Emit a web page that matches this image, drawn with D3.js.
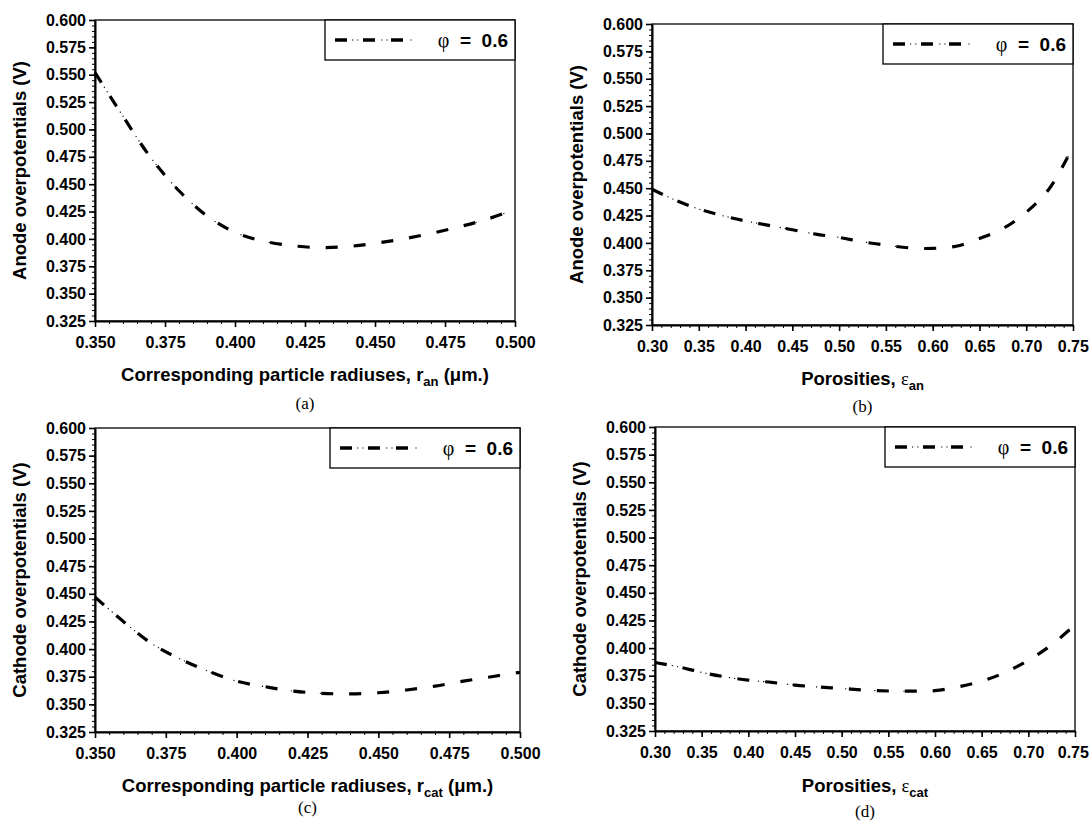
<!DOCTYPE html>
<html><head><meta charset="utf-8">
<script src="https://cdn.jsdelivr.net/npm/d3@7"></script>
<style>body{margin:0;background:#fff}svg{display:block}</style>
</head><body><svg id="chart" width="1090" height="822"></svg>
<script>
// ---- data ----
const radiusX = [0.350,0.360,0.370,0.380,0.390,0.400,0.410,0.420,0.430,0.440,0.450,0.460,0.470,0.480,0.490,0.500];
const anodeRadiusY = [0.552,0.512,0.474,0.444,0.421,0.406,0.398,0.394,0.392,0.393,0.396,0.400,0.405,0.411,0.418,0.427];
const cathodeRadiusY = [0.447,0.425,0.405,0.391,0.380,0.371,0.366,0.362,0.360,0.3595,0.3605,0.363,0.3665,0.371,0.375,0.379];
const porosityX = [0.300,0.325,0.350,0.375,0.400,0.425,0.450,0.475,0.500,0.525,0.550,0.575,0.600,0.625,0.650,0.675,0.700,0.725,0.750];
const anodePorosityY = [0.449,0.439,0.431,0.425,0.420,0.416,0.412,0.408,0.405,0.401,0.398,0.3955,0.395,0.397,0.404,0.413,0.428,0.450,0.488];
const cathodePorosityY = [0.387,0.383,0.378,0.374,0.371,0.369,0.3665,0.3648,0.3635,0.362,0.3612,0.361,0.3615,0.365,0.370,0.378,0.389,0.403,0.421];
const yTickValues = [0.325,0.350,0.375,0.400,0.425,0.450,0.475,0.500,0.525,0.550,0.575,0.600];
const radiusTickValues = [0.350,0.375,0.400,0.425,0.450,0.475,0.500];
const porosityTickValues = [0.30,0.35,0.40,0.45,0.50,0.55,0.60,0.65,0.70,0.75];
const legendValue = "0.6";

// ---- layout ----
const panels = [
  {L:95,R:515,T:20,B:321, xs:radiusX, ys:anodeRadiusY, xt:radiusTickValues, xfmt:".3f", xminor:0.005,
   yTitle:"Anode overpotentials (V)", xTitle:["Corresponding particle radiuses, r","an"," (\u03bcm.)"], cap:"(a)", capY:409, xTitleY:381},
  {L:652,R:1073,T:24,B:325, xs:porosityX, ys:anodePorosityY, xt:porosityTickValues, xfmt:".2f", xminor:0.01,
   yTitle:"Anode overpotentials (V)", xTitle:["Porosities, ","\u03b5","an"], greek:true, cap:"(b)", capY:412, xTitleY:385},
  {L:95,R:520,T:428,B:732, xs:radiusX, ys:cathodeRadiusY, xt:radiusTickValues, xfmt:".3f", xminor:0.005,
   yTitle:"Cathode overpotentials (V)", xTitle:["Corresponding particle radiuses, r","cat"," (\u03bcm.)"], cap:"(c)", capY:813, xTitleY:792},
  {L:655,R:1075,T:427,B:731, xs:porosityX, ys:cathodePorosityY, xt:porosityTickValues, xfmt:".2f", xminor:0.01,
   yTitle:"Cathode overpotentials (V)", xTitle:["Porosities, ","\u03b5","cat"], greek:true, cap:"(d)", capY:817, xTitleY:792}
];

const svg = d3.select("#chart");
const SANS = "'Liberation Sans', Arial, sans-serif";
const SERIF = "'Liberation Serif', 'Times New Roman', serif";

panels.forEach(p => {
  const g = svg.append("g");
  const x = d3.scaleLinear().domain([p.xt[0], p.xt[p.xt.length-1]]).range([p.L, p.R]);
  const y = d3.scaleLinear().domain([0.325, 0.600]).range([p.B, p.T]);

  // minor ticks
  const yMinor = d3.range(0, 56).map(i => +(0.325 + i*0.005).toFixed(4));
  const nx = Math.round((x.domain()[1]-x.domain()[0])/p.xminor);
  const xMinor = d3.range(0, nx+1).map(i => +(x.domain()[0] + i*p.xminor).toFixed(4));

  g.append("g").attr("transform", `translate(${p.L},0)`)
    .call(d3.axisLeft(y).tickValues(yMinor).tickSize(3).tickFormat("").tickSizeOuter(0))
    .call(s => { s.select(".domain").remove(); s.selectAll("line").attr("stroke","#000").attr("stroke-width",1); });
  g.append("g").attr("transform", `translate(0,${p.B})`)
    .call(d3.axisBottom(x).tickValues(xMinor).tickSize(3).tickFormat("").tickSizeOuter(0))
    .call(s => { s.select(".domain").remove(); s.selectAll("line").attr("stroke","#000").attr("stroke-width",1); });

  // plot border
  g.append("rect").attr("x", p.L).attr("y", p.T).attr("width", p.R-p.L).attr("height", p.B-p.T)
    .attr("fill","none").attr("stroke","#000").attr("stroke-width",1.3);

  // major axes
  const ya = g.append("g").attr("transform", `translate(${p.L},0)`)
    .call(d3.axisLeft(y).tickValues(yTickValues).tickSize(6).tickSizeOuter(0).tickPadding(3).tickFormat(d3.format(".3f")));
  const xa = g.append("g").attr("transform", `translate(0,${p.B})`)
    .call(d3.axisBottom(x).tickValues(p.xt).tickSize(6).tickSizeOuter(0).tickPadding(10).tickFormat(d3.format(p.xfmt)));
  [ya, xa].forEach(a => {
    a.select(".domain").attr("stroke","#000").attr("stroke-width",2);
    a.selectAll(".tick line").attr("stroke","#000").attr("stroke-width",1.6);
    a.selectAll(".tick text").attr("fill","#000").style("font-family", SANS).style("font-weight","bold").style("font-size","16px");
  });
  // keep the last x label inside the page
  xa.selectAll(".tick text").filter((d,i,n) => i === n.length-1).each(function() {
    const bb = this.getBBox();
    const m = this.getScreenCTM();
    const right = m.e + bb.x + bb.width;
    if (right > 1089) d3.select(this).attr("dx", 1089 - right);
  });

  // curve
  const line = d3.line().x((d,i) => x(p.xs[i])).y(d => y(d)).curve(d3.curveCatmullRom.alpha(0.5));
  g.append("path").datum(p.ys).attr("d", line).attr("fill","none").attr("stroke","#000")
    .attr("stroke-width",3.2).attr("stroke-dasharray","12,16");
  g.append("path").datum(p.ys).attr("d", line).attr("fill","none").attr("stroke","#000")
    .attr("stroke-width",1.1).attr("stroke-dasharray","0,17,1.2,4,1.2,5.8");

  // legend
  const lw = 190, lh = 40;
  const lx = p.R - lw, ly = p.T;
  g.append("rect").attr("x", lx).attr("y", ly).attr("width", lw).attr("height", lh)
    .attr("fill","#fff").attr("stroke","#000").attr("stroke-width",1.3);
  const lyc = ly + lh/2;
  g.append("line").attr("x1", lx+10).attr("x2", lx+90).attr("y1", lyc).attr("y2", lyc)
    .attr("stroke","#000").attr("stroke-width",3.4).attr("stroke-dasharray","12,16");
  g.append("line").attr("x1", lx+10).attr("x2", lx+90).attr("y1", lyc).attr("y2", lyc)
    .attr("stroke","#000").attr("stroke-width",1.1).attr("stroke-dasharray","0,17,1.2,4,1.2,5.8");
  const lt = g.append("text").attr("x", lx+lw-7).attr("y", lyc+7).attr("text-anchor","end")
    .style("font-family", SANS).style("font-weight","bold").style("font-size","19px").attr("fill","#000");
  lt.append("tspan").text("\u03c6").style("font-family", SERIF).style("font-weight","normal").style("font-size","20px");
  lt.append("tspan").text("\u00a0\u00a0=\u00a0\u00a0" + legendValue);

  // y title
  g.append("text").attr("transform", `translate(${p.L-69},${(p.T+p.B)/2}) rotate(-90)`)
    .attr("text-anchor","middle").style("font-family", SANS).style("font-weight","bold").style("font-size","18.5px")
    .text(p.yTitle);

  // x title
  const xt = g.append("text").attr("x", (p.L+p.R)/2).attr("y", p.xTitleY).attr("text-anchor","middle")
    .style("font-family", SANS).style("font-weight","bold").style("font-size","18.5px");
  if (p.greek) {
    xt.append("tspan").text(p.xTitle[0]);
    xt.append("tspan").text(p.xTitle[1]).style("font-family", SERIF).style("font-weight","normal");
    xt.append("tspan").text(p.xTitle[2]).attr("dy", 5).style("font-size","13px");
  } else {
    xt.append("tspan").text(p.xTitle[0]);
    xt.append("tspan").text(p.xTitle[1]).attr("dy", 5).style("font-size","13px");
    xt.append("tspan").text(p.xTitle[2]).attr("dy", -5);
  }

  // caption
  g.append("text").attr("x", (p.L+p.R)/2).attr("y", p.capY).attr("text-anchor","middle")
    .style("font-family", SERIF).style("font-size","17px").text(p.cap);
});
</script></body></html>
